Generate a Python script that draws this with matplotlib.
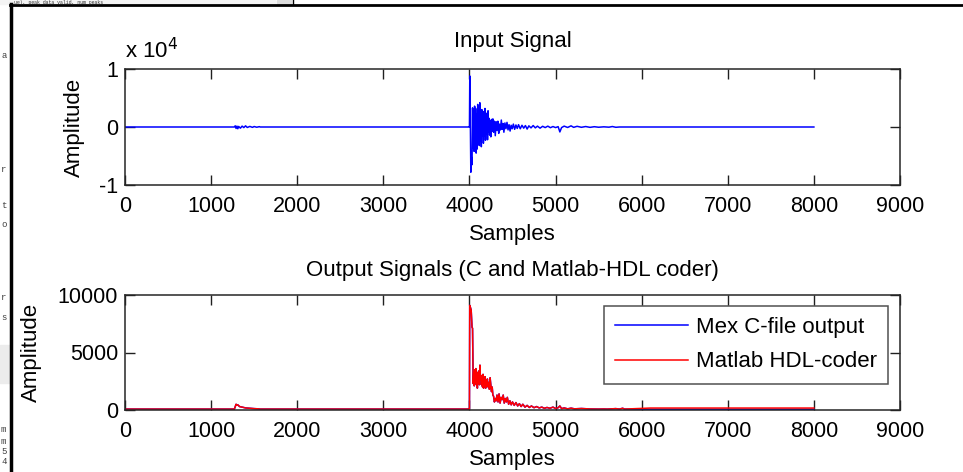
import matplotlib
matplotlib.use('Agg')
import matplotlib.pyplot as plt
from matplotlib.lines import Line2D
from matplotlib.patches import Rectangle
from matplotlib.ticker import FuncFormatter

plt.rcParams['font.family'] = ['Liberation Sans', 'DejaVu Sans']

# input signal, (sample, amplitude) - shown in units of 1e4
in_pts = [(0, 0), (1270, 0), (1280, 200), (1290, -250), (1300, 150), (1310, -300), (1320, 100),
          (1340, -200), (1360, 150), (1380, -100), (1400, 200), (1420, -80), (1450, 100), (1480, -60),
          (1500, 80), (1530, -40), (1560, 60), (1570, 0),
          (3995, 0), (4000, 0), (4004, 8800), (4010, 1500), (4016, -7800), (4024, -5200), (4030, -6500),
          (4036, 3300), (4042, -3600), (4048, 3000), (4054, -4200), (4060, 3600), (4066, -2600),
          (4072, 3200), (4078, -4500), (4084, 2200), (4090, -3800), (4096, 3900), (4102, -2000),
          (4108, 2600), (4114, -3200), (4120, 4200), (4126, -2400), (4132, 1800), (4138, -3400),
          (4144, 3000), (4150, -1600), (4156, 2700), (4162, -2800), (4168, 1500), (4174, -1500),
          (4180, 3200), (4186, -2300), (4192, 2400), (4198, -1200), (4204, 1800), (4210, -2200),
          (4216, 2800), (4222, -900), (4228, 1500), (4234, -1400), (4240, 1100), (4248, -1700),
          (4256, 1300), (4264, -700), (4272, 1400), (4280, -900), (4290, 1000), (4300, -1500),
          (4310, 900), (4320, -600), (4330, 1000), (4340, -1100), (4350, 500), (4360, -500),
          (4370, 1200), (4380, -400), (4390, 600), (4400, -900), (4412, 700), (4424, -300),
          (4436, 800), (4448, -500), (4460, 400), (4472, -700), (4484, 300), (4496, -300),
          (4510, 500), (4525, -400), (4540, 350), (4555, -250), (4570, 400), (4590, -300),
          (4610, 300), (4630, -200), (4650, 250), (4670, -350), (4690, 200), (4715, -150),
          (4740, 250), (4765, -150), (4790, 150), (4820, -200), (4850, 120), (4880, -100),
          (4910, 150), (4940, -120), (4970, 80), (5000, -100), (5030, 60), (5050, -850),
          (5070, -100), (5100, 150), (5140, -80), (5180, 200), (5210, -60), (5250, 120),
          (5300, -50), (5350, 80), (5400, -60), (5450, 50), (5500, -40), (5560, 30),
          (5620, -30), (5660, 80), (5700, -50), (5740, 0), (8000, 0)]
in_x = [p[0] for p in in_pts]
in_y = [p[1] for p in in_pts]

# output signals
hdl_pts = [(0, 80), (1270, 80), (1290, 500), (1300, 420), (1310, 450), (1330, 300), (1360, 250),
           (1400, 180), (1450, 150), (1500, 120), (1550, 100), (1570, 80),
           (3995, 80), (4000, 80), (4003, 9100), (4012, 8900), (4020, 8700), (4030, 7200), (4036, 7100),
           (4040, 4500), (4044, 2300), (4050, 3300), (4056, 2100), (4062, 3500), (4068, 2400),
           (4074, 3600), (4080, 2200), (4086, 3300), (4092, 1900), (4098, 3000), (4104, 2500),
           (4110, 3400), (4116, 2200), (4122, 3900), (4128, 2600), (4134, 3000), (4140, 2200),
           (4146, 2800), (4152, 2000), (4158, 3100), (4164, 1900), (4170, 2600), (4176, 2200),
           (4182, 2900), (4188, 1900), (4194, 2500), (4200, 2100), (4208, 2700), (4216, 2000),
           (4224, 2400), (4232, 1800), (4240, 2800), (4248, 2200), (4256, 1600), (4264, 2000),
           (4272, 1300), (4280, 1200), (4290, 700), (4300, 1000), (4310, 800), (4320, 1300),
           (4332, 700), (4344, 1400), (4356, 600), (4368, 1100), (4380, 900), (4392, 1300),
           (4404, 600), (4416, 1000), (4428, 700), (4440, 1100), (4455, 500), (4470, 800),
           (4485, 450), (4500, 700), (4520, 400), (4540, 650), (4560, 350), (4580, 550),
           (4600, 300), (4620, 500), (4645, 250), (4670, 400), (4695, 220), (4720, 350),
           (4750, 200), (4780, 300), (4810, 180), (4840, 250), (4870, 150), (4900, 220),
           (4935, 150), (4970, 250), (5000, 130), (5030, 200), (5050, 350), (5070, 120),
           (5100, 180), (5140, 100), (5180, 160), (5220, 100), (5300, 130), (5400, 90),
           (5500, 80), (5560, 90), (5600, 80), (5700, 120), (5740, 80), (5780, 150), (5800, 80),
           (6100, 170), (8000, 170)]
hdl_x = [p[0] for p in hdl_pts]
hdl_y = [p[1] for p in hdl_pts]

# Mex output follows the HDL output, then sits just under it from ~6100 on
mex_tail = [(6100, 60), (8000, 60)]
mex_pts = [p for p in hdl_pts if p[0] <= 5800] + mex_tail
mex_x = [p[0] for p in mex_pts]
mex_y = [p[1] for p in mex_pts]

x_ticks = [0, 1000, 2000, 3000, 4000, 5000, 6000, 7000, 8000, 9000]

W, H = 963, 472
fig = plt.figure(figsize=(W / 100, H / 100), dpi=100)

def box(l, t, r, b):
    return [l / W, 1 - b / H, (r - l) / W, (b - t) / H]

def style(ax):
    ax.set_xlim(0, 9000)
    ax.set_xticks(x_ticks)
    ax.tick_params(direction='in', top=True, right=True, length=7, width=1,
                   labelsize=15.5, pad=5, colors='#202020', labelcolor='black')
    ax.tick_params(axis='x', pad=8)
    for s in ax.spines.values():
        s.set_linewidth(1.1)
        s.set_color('#262626')
    ax.set_xlabel('Samples', fontsize=16, labelpad=5)

ax1 = fig.add_axes(box(125, 69, 900, 185))
ax1.plot(in_x, in_y, color='#0000ff', lw=1.1)
ax1.set_ylim(-10000, 10000)
ax1.set_yticks([-10000, 0, 10000])
ax1.yaxis.set_major_formatter(FuncFormatter(lambda v, p: '%d' % round(v / 10000)))
style(ax1)
ax1.set_title('Input Signal', fontsize=16, pad=16)
ax1.set_ylabel('Amplitude', fontsize=16, labelpad=10)
ax1.text(0.0, 1.05, r'x 10$^4$', transform=ax1.transAxes, fontsize=16, ha='left', va='bottom')

ax2 = fig.add_axes(box(125, 295, 900, 410))
ax2.plot(mex_x, mex_y, color='#0000ff', lw=1.1, label='Mex C-file output')
ax2.plot(hdl_x, hdl_y, color='#ff0000', lw=1.1, label='Matlab HDL-coder')
ax2.set_ylim(0, 10000)
ax2.set_yticks([0, 5000, 10000])
style(ax2)
ax2.set_title('Output Signals (C and Matlab-HDL coder)', fontsize=16, pad=14)
ax2.set_ylabel('Amplitude', fontsize=16, labelpad=11)
leg = ax2.legend(loc='upper right', bbox_to_anchor=(888 / W, 1 - 306 / H),
                 bbox_transform=fig.transFigure, fontsize=16, fancybox=False,
                 handlelength=3.3, handletextpad=0.35, borderpad=0.5, labelspacing=0.6,
                 borderaxespad=0)
leg.get_frame().set_edgecolor('#262626')
leg.get_frame().set_linewidth(1.1)

# screenshot frame and editor bits around it
fig.add_artist(Line2D([10.5 / W, 10.5 / W], [0, 1 - 4 / H], color='black', lw=2.5, transform=fig.transFigure))
fig.add_artist(Line2D([10 / W, 1], [1 - 5 / H, 1 - 5 / H], color='black', lw=2, transform=fig.transFigure))
fig.add_artist(Rectangle((0, 1 - 4 / H), 275 / W, 4 / H, color='#f4f4f4', transform=fig.transFigure))
fig.add_artist(Rectangle((277 / W, 1 - 4 / H), 14 / W, 4 / H, color='#dcdcdc', transform=fig.transFigure))
fig.add_artist(Line2D([293 / W, 293 / W], [1 - 4 / H, 1], color='black', lw=1, transform=fig.transFigure))
fig.text(14 / W, 1, 'ue), peak data valid, num peaks', fontsize=3.5, family='Liberation Mono',
         va='top', ha='left', color='#303030')
fig.add_artist(Rectangle((0, 1 - 383 / H), 9 / W, 38 / H, color='#ececec', transform=fig.transFigure))
for ch, yy in [('a', 55), ('r', 170), ('t', 205), ('o', 225), ('r', 298), ('s', 318),
               ('m', 430), ('m', 441), ('5', 452), ('4', 461)]:
    fig.text(1 / W, 1 - yy / H, ch, fontsize=6.5, family='Liberation Mono', va='center', ha='left', color='#404040')

fig.savefig('out.png', dpi=100)
